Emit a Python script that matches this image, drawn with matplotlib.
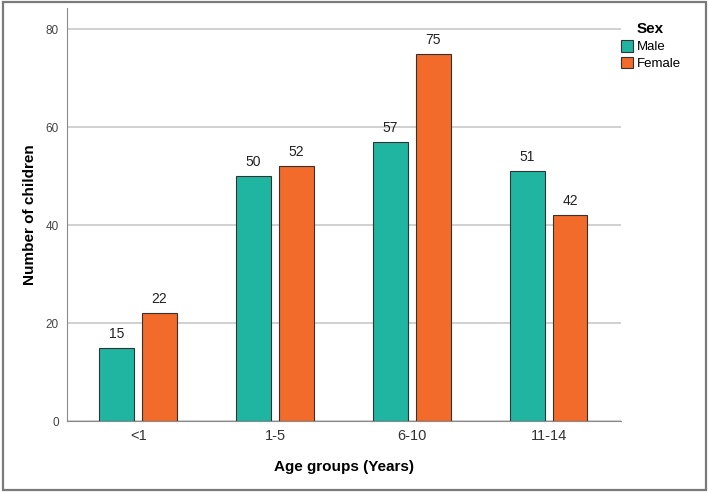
import matplotlib
matplotlib.use("Agg")
import numpy as np
import matplotlib.pyplot as plt
from matplotlib.patches import Rectangle

plt.rcParams['font.family'] = ['Liberation Sans', 'DejaVu Sans']

# data
age_groups = ["<1", "1-5", "6-10", "11-14"]
male = [15, 50, 57, 51]
female = [22, 52, 75, 42]

teal = "#1fb5a0"
orange = "#f26b2b"

fig = plt.figure(figsize=(7.09, 4.92), dpi=100)
ax = fig.add_axes([0.0945, 0.1443, 0.7815, 0.8394])

x = np.arange(len(age_groups))
w = 0.255
off = 0.157
b1 = ax.bar(x - off, male, w, color=teal, edgecolor="#333333", linewidth=0.8, label="Male", zorder=3)
b2 = ax.bar(x + off, female, w, color=orange, edgecolor="#333333", linewidth=0.8, label="Female", zorder=3)

for bars, vals in [(b1, male), (b2, female)]:
    for rect, v in zip(bars, vals):
        ax.annotate(str(v), (rect.get_x() + rect.get_width() / 2, v),
                    xytext=(0, 5), textcoords="offset points",
                    ha="center", va="bottom", fontsize=10, color="#222222")

ax.set_xlim(-0.52, 3.53)
ax.set_ylim(0, 84.3)
ax.set_yticks([0, 20, 40, 60, 80])
ax.set_xticks(x)
ax.set_xticklabels(age_groups, fontsize=10.5, color="#333333")
ax.tick_params(axis="y", length=0, labelsize=8.5, pad=6, labelcolor="#444444")
ax.tick_params(axis="x", length=0, pad=6)

ax.yaxis.grid(True, color="#c8c8c8", linewidth=1.2, zorder=0)
ax.set_axisbelow(True)
for s in ["top", "right"]:
    ax.spines[s].set_visible(False)
ax.spines["left"].set_color("#8a8a8a")
ax.spines["bottom"].set_color("#8a8a8a")

ax.set_xlabel("Age groups (Years)", fontsize=11, fontweight="bold", labelpad=12)
ax.set_ylabel("Number of children", fontsize=11, fontweight="bold", labelpad=6)

leg = fig.legend(handles=[b1, b2], loc="upper left", bbox_to_anchor=(0.868, 0.965),
                 frameon=False, fontsize=9.5, title="Sex",
                 handlelength=0.9, handleheight=1.0, handletextpad=0.3,
                 labelspacing=0.25, borderaxespad=0)
leg.get_title().set_fontweight("bold")
leg.get_title().set_fontsize(11)

# outer frame
fig.patches.append(Rectangle((0.004, 0.005), 0.992, 0.99, transform=fig.transFigure,
                             fill=False, edgecolor="#7a7a7a", linewidth=1.6))

fig.savefig("out.png", dpi=100)
